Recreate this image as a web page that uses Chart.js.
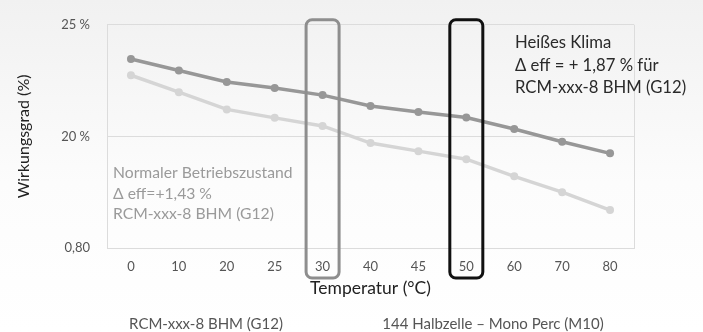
<!DOCTYPE html>
<html>
<head>
<meta charset="utf-8">
<script src="https://cdn.jsdelivr.net/npm/chart.js@4.4.1/dist/chart.umd.min.js"></script>
<style>
  html, body { margin: 0; padding: 0; }
  body { background: linear-gradient(#f1f1f1, #fcfcfc 55%, #ffffff); }
  #wrap { position: relative; width: 703px; height: 332px; }
</style>
</head>
<body>
<div id="wrap"><canvas id="myChart"></canvas></div>
<script>
const categories = ["0", "10", "20", "25", "30", "40", "45", "50", "60", "70", "80"];
const rcmValues = [23.47, 22.95, 22.44, 22.17, 21.85, 21.36, 21.09, 20.85, 20.33, 19.76, 19.24];
const halbValues = [22.74, 21.98, 21.21, 20.83, 20.47, 19.70, 19.34, 18.98, 18.21, 17.50, 16.70];
const seriesNames = ["RCM-xxx-8 BHM (G12)", "144 Halbzelle \u2013 Mono Perc (M10)"];
const yTickValues = [15, 20, 25];
const yTickLabels = ["0,80", "20 %", "25 %"];
const highlightCats = ["30", "50"];
const normalNote = ["Normaler Betriebszustand", "\u0394 eff=+1,43 %", "RCM-xxx-8 BHM (G12)"];
const hotNote = ["Hei\u00dfes Klima", "\u0394 eff = + 1,87 % f\u00fcr", "RCM-xxx-8 BHM (G12)"];

const FONT = "Lato, 'Open Sans', sans-serif";

const extras = {
  id: "extras",
  beforeDatasetsDraw(chart) {
    const { ctx, chartArea } = chart;
    ctx.save();
    ctx.strokeStyle = "#dcdcdc";
    ctx.lineWidth = 1;
    ctx.beginPath();
    ctx.moveTo(Math.round(chartArea.right) + 0.5, chartArea.top);
    ctx.lineTo(Math.round(chartArea.right) + 0.5, chartArea.bottom);
    ctx.stroke();
    ctx.restore();
  },
  afterDatasetsDraw(chart) {
    const { ctx, chartArea, scales } = chart;
    const colors = ["#8e8e8e", "#111111"];
    ctx.save();
    ctx.lineWidth = 3;
    highlightCats.forEach((cat, i) => {
      const x = scales.x.getPixelForValue(categories.indexOf(cat));
      ctx.strokeStyle = colors[i];
      ctx.beginPath();
      ctx.roundRect(x - 16.5, chartArea.top - 5, 33, chartArea.bottom - chartArea.top + 35, 6);
      ctx.stroke();
    });
    ctx.restore();
  },
  afterDraw(chart) {
    const { ctx, chartArea } = chart;
    ctx.save();
    ctx.textBaseline = "middle";
    ctx.textAlign = "left";
    ctx.font = "15.7px " + FONT;
    ctx.fillStyle = "#9a9a9a";
    normalNote.forEach((line, i) => ctx.fillText(line, chartArea.left + 6, 173 + i * 20.5));
    ctx.font = "16.7px " + FONT;
    ctx.fillStyle = "#2a2a2a";
    hotNote.forEach((line, i) => ctx.fillText(line, chartArea.left + 408, 43 + i * 22.5));
    ctx.font = "15px " + FONT;
    ctx.fillStyle = "#555";
    ctx.textAlign = "center";
    ctx.fillText(seriesNames[0], 206, 324);
    ctx.fillText(seriesNames[1], 493, 324);
    ctx.restore();
  }
};

const ctx = document.getElementById("myChart").getContext("2d");
const chart = new Chart(ctx, {
  type: "line",
  data: {
    labels: categories,
    datasets: [
      {
        label: seriesNames[0],
        data: rcmValues,
        borderColor: "#979797",
        backgroundColor: "#979797",
        borderWidth: 3.5,
        pointRadius: 4,
        pointBorderWidth: 0,
        tension: 0
      },
      {
        label: seriesNames[1],
        data: halbValues,
        borderColor: "#d5d5d5",
        backgroundColor: "#d5d5d5",
        borderWidth: 3.5,
        pointRadius: 4,
        pointBorderWidth: 0,
        tension: 0
      }
    ]
  },
  options: {
    responsive: true,
    maintainAspectRatio: false,
    animation: false,
    devicePixelRatio: 1,
    layout: { padding: { top: 24, right: 69, bottom: 32, left: 0 } },
    plugins: {
      legend: { display: false },
      tooltip: { enabled: false }
    },
    scales: {
      x: {
        offset: true,
        grid: { display: false, drawTicks: false },
        border: { display: true, color: "#dcdcdc" },
        ticks: { padding: 11, color: "#555", font: { size: 13, family: FONT } },
        title: {
          display: true,
          text: "Temperatur (\u00b0C)",
          color: "#222",
          font: { size: 17.5, family: FONT },
          padding: { top: 0, bottom: 1 }
        },
        afterFit(s) { s.height = 52; }
      },
      y: {
        min: 15,
        max: 25,
        afterBuildTicks(s) { s.ticks = yTickValues.map(v => ({ value: v })); },
        grid: { color: "#dcdcdc", drawTicks: false },
        border: { display: true, color: "#dcdcdc" },
        ticks: {
          padding: 17,
          color: "#555",
          font: { size: 13, family: FONT },
          callback: v => yTickLabels[yTickValues.indexOf(v)]
        },
        title: {
          display: true,
          text: "Wirkungsgrad (%)",
          color: "#222",
          font: { size: 16, family: FONT },
          padding: { top: 14, bottom: 0 }
        },
        afterFit(s) { s.width = 107; }
      }
    }
  },
  plugins: [extras]
});
</script>
</body>
</html>
